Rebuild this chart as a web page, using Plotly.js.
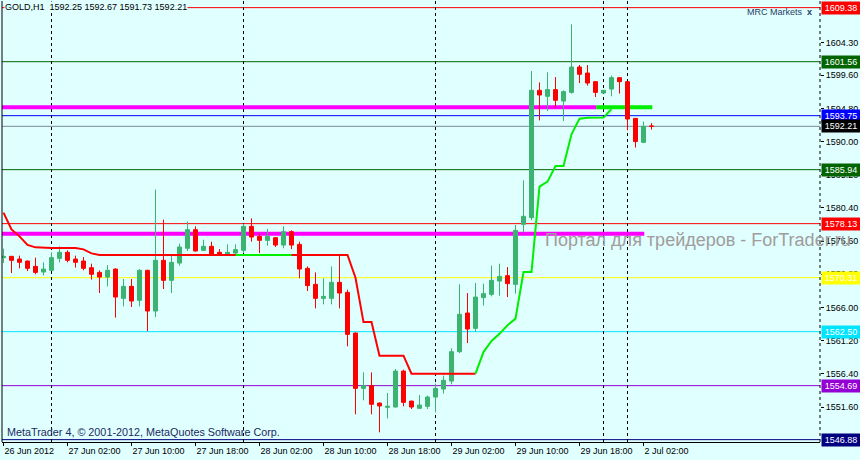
<!DOCTYPE html>
<html><head><meta charset="utf-8">
<script src="https://cdn.plot.ly/plotly-3.0.1.min.js"></script>
<style>html,body{margin:0;padding:0;background:#e0ffff;}#chart{width:860px;height:460px;}</style>
</head><body><div id="chart"></div>
<script>
const symbol = 'GOLD';
const period = 'H1';

const open = [1573.21,1573.40,1573.01,1572.72,1571.95,1571.13,1571.37,1573.11,1573.98,1573.01,
1572.72,1571.76,1571.08,1570.40,1571.56,1567.32,1569.06,1567.03,1571.37,1565.49,
1572.82,1569.93,1572.43,1574.56,1577.26,1574.27,1574.85,1573.98,1573.59,1573.88,
1574.27,1577.74,1576.29,1575.71,1576.10,1575.03,1576.97,1575.13,1571.66,1569.35,
1567.32,1567.32,1569.64,1568.19,1562.30,1554.30,1554.69,1552.17,1551.55,1551.60,
1556.80,1552.46,1551.41,1551.70,1553.04,1554.20,1555.36,1559.61,1565.20,1562.98,
1567.42,1567.90,1569.83,1570.61,1569.35,1578.03,1579.00,1597.42,1596.55,1597.52,
1595.87,1597.12,1600.79,1599.92,1598.67,1597.03,1597.60,1599.25,1598.67,1593.36,
1589.89,1592.25];
const high = [1574.51,1573.45,1573.50,1572.80,1573.21,1572.53,1573.98,1574.85,1574.27,1573.50,
1573.30,1572.34,1571.37,1572.14,1571.66,1570.12,1570.12,1571.56,1571.47,1583.05,
1578.71,1573.69,1575.24,1578.42,1577.74,1575.81,1575.52,1574.45,1575.13,1575.13,
1578.13,1578.90,1576.68,1577.35,1576.19,1577.74,1577.16,1575.52,1571.95,1571.08,
1570.22,1571.95,1573.50,1568.58,1562.40,1556.62,1556.62,1552.28,1553.62,1557.09,
1557.01,1552.50,1553.33,1553.25,1554.98,1556.14,1560.09,1569.35,1568.09,1569.54,
1569.45,1572.05,1572.34,1571.85,1577.93,1584.39,1600.21,1598.57,1600.02,1599.34,
1597.42,1606.96,1601.08,1601.08,1598.76,1597.45,1599.54,1599.30,1598.76,1593.40,
1592.89,1592.67];
const low = [1572.43,1570.98,1571.66,1571.27,1570.80,1570.65,1571.30,1572.53,1572.53,1571.76,
1571.37,1570.03,1568.09,1569.06,1564.53,1566.17,1566.07,1566.17,1562.59,1564.62,
1568.67,1568.09,1572.05,1574.17,1574.08,1574.17,1573.59,1573.50,1573.50,1573.69,
1573.88,1575.52,1573.88,1574.95,1574.75,1574.56,1574.45,1570.22,1568.38,1565.87,
1566.45,1566.45,1565.87,1560.38,1550.54,1552.57,1550.54,1547.94,1549.96,1551.55,
1551.70,1551.31,1551.31,1551.31,1550.83,1553.54,1554.88,1559.41,1560.85,1562.50,
1566.27,1567.61,1567.71,1567.51,1568.00,1576.87,1578.61,1593.07,1594.42,1594.91,
1592.97,1596.94,1598.47,1598.10,1596.45,1597.00,1596.55,1596.94,1591.63,1589.13,
1589.79,1591.73];
const close = [1573.40,1572.82,1572.53,1571.66,1571.08,1571.56,1573.21,1573.98,1572.82,1572.53,
1571.66,1570.80,1570.40,1571.37,1567.51,1569.06,1566.93,1571.37,1565.49,1572.82,
1569.93,1572.53,1574.75,1577.26,1574.17,1574.85,1573.69,1573.59,1573.98,1574.37,
1577.74,1576.19,1575.71,1576.29,1575.03,1576.97,1575.03,1571.56,1569.16,1567.32,
1567.61,1569.64,1568.09,1562.11,1554.30,1554.69,1551.99,1551.75,1551.70,1556.80,
1552.28,1551.60,1551.89,1553.04,1554.30,1555.46,1559.61,1565.01,1562.88,1567.51,
1568.00,1569.93,1570.50,1569.45,1577.16,1579.19,1597.42,1596.74,1597.52,1595.97,
1597.23,1600.79,1599.73,1598.47,1597.12,1597.42,1599.25,1598.67,1593.26,1590.00,
1592.20,1592.21];

// trailing-stop indicator: down buffer (red) and up buffer (green)
const redLine = [1579.72,1577.30,1576.29,1575.06,1574.70,1574.60,1574.60,1574.60,1574.60,1574.60,
1574.41,1573.83,1573.59,1573.59,1573.59,1573.59,1573.59,1573.59,1573.59,1573.59,
1573.59,1573.59,1573.59,1573.59,1573.59,1573.59,1573.59,1573.59,1573.59,1573.59,
1573.59,1573.59,1573.59,1573.59,1573.59,1573.59,1573.59,1573.59,1573.59,1573.59,
1573.59,1573.59,1573.59,1573.59,1570.30,1563.89,1563.89,1559.03,1559.03,1559.03,
1559.03,1556.43,1556.43,1556.43,1556.43,1556.43,1556.43,1556.43,1556.43,1556.43,
null,null,null,null,null,null,null,null,null,null,
null,null,null,null,null,null,null,null,null,null,
null,null];
const greenLine = [null,null,null,null,null,null,null,null,null,null,
null,null,null,null,null,null,null,null,null,null,
null,null,null,null,null,null,null,null,null,1573.59,
1573.59,1573.59,1573.59,1573.59,1573.59,1573.59,1573.59,null,null,null,
null,null,null,null,null,null,null,null,null,null,
null,null,null,null,null,null,null,null,null,1556.43,
1559.55,1561.16,1562.19,1563.42,1564.39,1571.13,1571.13,1583.48,1584.21,1586.46,
1586.46,1591.05,1593.32,1593.44,1593.44,1593.47,1594.71,null,null,null,
null,null];

const tickIdx = [0,8,16,24,32,40,48,56,64,72,80];
const tickText = ['26 Jun 2012','27 Jun 02:00','27 Jun 10:00','27 Jun 18:00','28 Jun 02:00',
  '28 Jun 10:00','28 Jun 18:00','29 Jun 02:00','29 Jun 10:00','29 Jun 18:00','2 Jul 02:00'];
const priceTicks = [1551.60,1556.40,1561.20,1566.00,1570.80,1575.60,1580.40,1585.20,1590.00,1594.80,1599.60,1604.30];

const levels = [1609.38,1601.56,1593.75,1592.21,1585.94,1578.13,1570.31,1562.50,1554.69,1546.88];
const levelColors = ['#ff0000','#006400','#0000ff','#778899','#006400','#ff0000','#ffff00','#00e5ff','#9400d3','#000080'];
const levelBoxColors = ['#ff0000','#006400','#0000ff','#000000','#006400','#ff0000','#ffff00','#00e5ff','#9400d3','#000080'];

const separators = [6,30,54,75,78];
const trendLevels = [1594.96,1576.68];
const trendEnds = [74.1,80.1];
const signalLevel = [1594.96];
const signalSpan = [74.1,81.1];

const bars = open.map((_, i) => i);
const last = open.length - 1;
const F = 'Liberation Sans, Arial, sans-serif';

const traces = [
  {type:'scatter', mode:'lines', x:bars, y:redLine, line:{color:'#ff0000', width:2}, connectgaps:false, hoverinfo:'none'},
  {type:'scatter', mode:'lines', x:bars, y:greenLine, line:{color:'#00ee00', width:2}, connectgaps:false, hoverinfo:'none'},
  {type:'candlestick', x:bars, open:open, high:high, low:low, close:close,
   increasing:{line:{color:'#3cb371', width:1}, fillcolor:'#3cb371'},
   decreasing:{line:{color:'#ff0000', width:1}, fillcolor:'#ff0000'},
   whiskerwidth:0, hoverinfo:'none'}
];

const shapes = [];
levels.forEach((v, i) => shapes.push({type:'line', xref:'paper', yref:'y', x0:0, x1:1, y0:v, y1:v,
  line:{color:levelColors[i], width:1}, layer:'below'}));
trendLevels.forEach((v, i) => shapes.push({type:'line', xref:'x', yref:'y', x0:-0.2, x1:trendEnds[i], y0:v, y1:v,
  line:{color:'#ff00ff', width:4}, layer:'below'}));
shapes.push({type:'line', xref:'x', yref:'y', x0:signalSpan[0], x1:signalSpan[1], y0:signalLevel[0], y1:signalLevel[0],
  line:{color:'#00ee00', width:4}, layer:'below'});
separators.forEach(s => shapes.push({type:'line', xref:'x', yref:'paper', x0:s, x1:s, y0:0, y1:1,
  line:{color:'#000000', width:1, dash:'3px,3px'}, layer:'below'}));
shapes.push({type:'line', xref:'paper', yref:'paper', x0:0, x1:0, y0:0, y1:1, line:{color:'#000', width:1}});
shapes.push({type:'line', xref:'paper', yref:'paper', x0:1, x1:1, y0:0, y1:1, line:{color:'#000', width:1, dash:'3px,3px'}});

const annotations = [];
levels.forEach((v, i) => annotations.push({xref:'paper', yref:'y', x:1, y:v, xanchor:'left', yanchor:'middle',
  xshift:1, text:v.toFixed(2), showarrow:false, bgcolor:levelBoxColors[i], width:38, height:12, borderpad:0,
  align:'center', font:{family:F, size:9, color:'#ffffff'}}));
annotations.push({xref:'paper', yref:'paper', x:0, y:1, xanchor:'left', yanchor:'top', xshift:2, yshift:0,
  text: symbol + ',' + period + '  ' + [open[last], high[last], low[last], close[last]].map(v => v.toFixed(2)).join(' '),
  showarrow:false, bgcolor:'#e0ffff', borderpad:0, font:{family:F, size:9, color:'#000000'}});
annotations.push({xref:'paper', yref:'paper', x:0.9083, y:0.975, xanchor:'left', yanchor:'middle',
  text:'MRC Markets  <b>x</b>', showarrow:false, font:{family:F, size:9, color:'#283c64'}});
annotations.push({xref:'paper', yref:'paper', x:1.0403, y:0.458, xanchor:'right', yanchor:'middle',
  text:'Портал для трейдеров - ForTrader.ru', showarrow:false, font:{family:F, size:18, color:'#a09c9c'}});
annotations.push({xref:'paper', yref:'paper', x:0, y:0, xanchor:'left', yanchor:'bottom', xshift:3, yshift:2,
  text:'MetaTrader 4, © 2001-2012, MetaQuotes Software Corp.', showarrow:false,
  font:{family:F, size:10.8, color:'#1a2a60'}});

const layout = {
  width:860, height:460,
  paper_bgcolor:'#e0ffff', plot_bgcolor:'#e0ffff',
  margin:{l:2, r:40, t:1, b:18},
  showlegend:false,
  boxgap:0.5, boxgroupgap:0,
  xaxis:{range:[-0.1875, 102.0625], tickvals:tickIdx, ticktext:tickText, ticks:'outside', ticklen:3,
    tickcolor:'#000', ticklabelposition:'outside right', showgrid:false, zeroline:false,
    showline:true, linecolor:'#000', linewidth:1, rangeslider:{visible:false},
    tickfont:{family:F, size:9, color:'#000'}, fixedrange:true},
  yaxis:{side:'right', range:[1546.5404, 1610.3404], tickvals:priceTicks, ticktext:priceTicks.map(v => v.toFixed(2)),
    ticks:'outside', ticklen:3, tickcolor:'#000', showgrid:false, zeroline:false, showline:false,
    tickfont:{family:F, size:9, color:'#000'}, fixedrange:true},
  shapes:shapes, annotations:annotations
};

Plotly.newPlot('chart', traces, layout, {displayModeBar:false, staticPlot:true});
</script>
</body></html>
